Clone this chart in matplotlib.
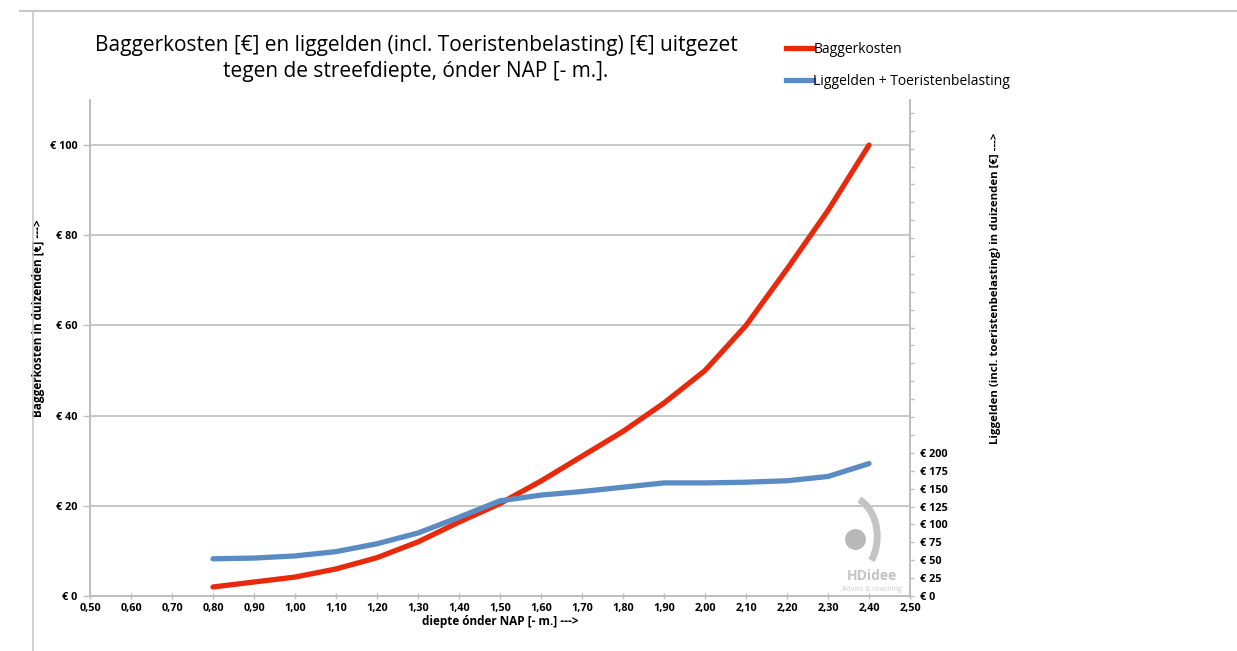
import matplotlib.pyplot as plt
from matplotlib.lines import Line2D
from matplotlib.patches import Arc

# depth below NAP [m]
diepte = [0.80, 0.90, 1.00, 1.10, 1.20, 1.30, 1.40, 1.50, 1.60,
          1.70, 1.80, 1.90, 2.00, 2.10, 2.20, 2.30, 2.40]
# dredging costs, thousands of euro (left axis)
baggerkosten = [2.0, 3.1, 4.2, 6.0, 8.5, 12.0, 16.4, 20.5, 25.5,
                31.0, 36.5, 42.8, 50.0, 60.0, 72.5, 85.5, 100.0]
# mooring fees + tourist tax, thousands of euro (right axis)
liggelden = [52, 53, 56, 62, 73, 88, 110, 133, 141,
             146, 152, 158, 158, 159, 161, 167, 185]

x_ticks = [0.5 + i * 0.1 for i in range(21)]
left_ticks = [0, 20, 40, 60, 80, 100]
right_ticks = [i * 25 for i in range(28)]

red = '#e8290b'
blue = '#5a8cc3'
grey = '#bdbdbd'
font = 'Open Sans'

fig = plt.figure(figsize=(12.37, 6.51), dpi=100)
W, H = 1237, 651
ax = fig.add_axes([90 / W, 55 / H, 820 / W, 496 / H])
ax2 = ax.twinx()

ax.plot(diepte, baggerkosten, color=red, lw=3.8, solid_capstyle='round',
        solid_joinstyle='round', zorder=4)
ax2.plot(diepte, liggelden, color=blue, lw=3.8, solid_capstyle='round',
         solid_joinstyle='round', zorder=3)

ax.set_xlim(0.5, 2.5)
ax.set_ylim(0, 110)
ax2.set_ylim(0, 693)

ax.set_xticks(x_ticks)
ax.set_xticklabels([f"{t:.2f}".replace('.', ',') for t in x_ticks])
ax.set_yticks(left_ticks)
ax.set_yticklabels([f"€ {t}" for t in left_ticks])
ax2.set_yticks(right_ticks)
ax2.set_yticklabels([f"€ {t}" if t <= 200 else "" for t in right_ticks])

for t in left_ticks[1:]:
    ax.axhline(t, color=grey, lw=1.2, zorder=1)

for a in (ax, ax2):
    a.spines['top'].set_visible(False)
    for s in ('left', 'right', 'bottom'):
        a.spines[s].set_color(grey)
        a.spines[s].set_linewidth(1.2)
ax.tick_params(axis='y', length=5, width=1, color=grey, pad=4)
ax.tick_params(axis='x', length=4, width=1, color=grey, direction='inout', pad=3)
ax2.tick_params(axis='y', length=3, width=1, color=grey, pad=4)

for lab in ax.get_xticklabels() + ax.get_yticklabels() + ax2.get_yticklabels():
    lab.set_fontfamily(font)
    lab.set_fontweight('bold')
    lab.set_fontsize(7.8)

ax.set_xlabel("diepte ónder NAP [- m.] --->", fontfamily=font, fontweight='bold',
              fontsize=8.5, labelpad=1)
ax.set_ylabel("Baggerkosten in duizenden [€] --->", fontfamily=font, fontweight='bold',
              fontsize=8.5)
ax.yaxis.set_label_coords(-45 / 820, 0.56)
ax2.set_ylabel("Liggelden (incl. toeristenbelasting) in duizenden [€] --->",
               fontfamily=font, fontweight='bold', fontsize=8.2)
ax2.yaxis.set_label_coords(1 + 80 / 820, 0.62)

fig.text(416 / W, 1 - 45 / H, "Baggerkosten [€] en liggelden (incl. Toeristenbelasting) [€] uitgezet",
         ha='center', va='center', fontsize=15, fontfamily=font)
fig.text(416 / W, 1 - 71 / H, "tegen de streefdiepte, ónder NAP [- m.].",
         ha='center', va='center', fontsize=15, fontfamily=font)

handles = [Line2D([], [], color=red, lw=3.8), Line2D([], [], color=blue, lw=3.8)]
leg = fig.legend(handles, ["Baggerkosten", "Liggelden + Toeristenbelasting"],
                 loc='upper left', bbox_to_anchor=(773 / W, 1 - 29 / H),
                 frameon=False, handlelength=2.0, handletextpad=0.0,
                 labelspacing=1.25, prop={'family': font, 'size': 10})

# watermark logo
ax.plot([0.933], [0.115], 'o', ms=15, color='#b8b8b8', mec='none',
        transform=ax.transAxes, zorder=2, clip_on=False)
ax.add_patch(Arc((0.925, 0.12), 0.07, 0.16, theta1=-60, theta2=80,
                 transform=ax.transAxes, color='#c4c4c4', lw=5, zorder=2))
ax.text(0.954, 0.04, "HDidee", transform=ax.transAxes, ha='center', va='center',
        fontsize=10, fontweight='bold', color='#c4c4c4', fontfamily=font, zorder=2)
ax.text(0.954, 0.013, "Advies & coaching", transform=ax.transAxes, ha='center',
        va='center', fontsize=5, color='#cccccc', fontfamily=font, zorder=2)

# outer frame
fig.add_artist(Line2D([20 / W, 1], [1 - 11 / H, 1 - 11 / H], color='#c8c8c8', lw=1.5))
fig.add_artist(Line2D([33 / W, 33 / W], [0, 1 - 11 / H], color='#c8c8c8', lw=1.2))

fig.savefig('out.png', dpi=100)
